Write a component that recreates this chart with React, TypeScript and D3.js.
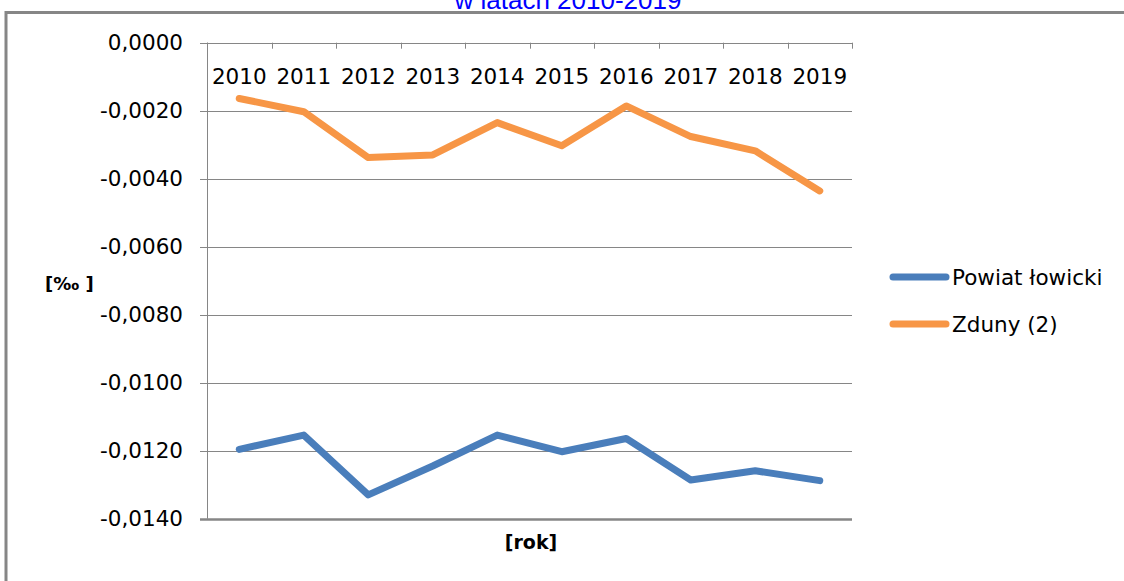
import * as d3 from 'd3';
import { Component, createRef } from 'react';

const years = ['2010', '2011', '2012', '2013', '2014', '2015', '2016', '2017', '2018', '2019'];
const powiatValues = [-0.01196, -0.01154, -0.0133, -0.01245, -0.01154, -0.01203, -0.01164, -0.01286, -0.01259, -0.01288];
const zdunyValues = [-0.00164, -0.00203, -0.00338, -0.0033, -0.00235, -0.00303, -0.00186, -0.00276, -0.00318, -0.00436];
const yTickValues = [0, -0.002, -0.004, -0.006, -0.008, -0.01, -0.012, -0.014];
const seriesNames = ['Powiat łowicki', 'Zduny (2)'];
const seriesColors = ['#4A7EBB', '#F79646'];

const FONT = '"DejaVu Sans", sans-serif';

class App extends Component {
    svgRef = createRef<SVGSVGElement>();

    componentDidMount() {
        this.drawGraph();
    }

    componentDidUpdate() {
        this.drawGraph();
    }

    drawGraph() {
        const width = 1124, height = 581;
        const left = 207, right = 852, top = 42.7, bottom = 518.7;

        const svg = d3.select(this.svgRef.current);
        svg.selectAll('*').remove();

        const x = d3.scaleBand().domain(years).range([left, right]);
        const y = d3.scaleLinear().domain([-0.014, 0]).range([bottom, top]);

        const locale = d3.formatLocale({
            decimal: ',', thousands: ' ', grouping: [3], currency: ['', ''], minus: '-'
        });
        const fmt = locale.format('.4f');

        svg.append('rect').attr('width', width).attr('height', height).attr('fill', '#fff');

        // outer frame of the chart
        svg.append('rect')
            .attr('x', 6).attr('y', 12.5)
            .attr('width', 1300).attr('height', 800)
            .attr('fill', 'none')
            .attr('stroke', '#868686')
            .attr('stroke-width', 3);

        // title (cut off at the top)
        svg.append('text')
            .attr('x', 568).attr('y', 9)
            .attr('text-anchor', 'middle')
            .style('font-family', '"Liberation Sans", Arial, sans-serif')
            .style('font-size', '26px')
            .attr('fill', '#0000FF')
            .text('w latach 2010-2019');

        // gridlines + y ticks
        const grid = svg.append('g');
        yTickValues.forEach(v => {
            grid.append('line')
                .attr('x1', left - 7).attr('x2', right)
                .attr('y1', Math.round(y(v)) + 0.5).attr('y2', Math.round(y(v)) + 0.5)
                .attr('stroke', '#868686')
                .attr('stroke-width', v === -0.014 ? 2.5 : 1);
            grid.append('text')
                .attr('x', 183).attr('y', y(v))
                .attr('dy', '0.36em')
                .attr('text-anchor', 'end')
                .style('font-family', FONT)
                .style('font-size', '21.5px')
                .attr('fill', '#000')
                .text(fmt(v));
        });

        // y axis line
        svg.append('line')
            .attr('x1', left + 0.5).attr('x2', left + 0.5)
            .attr('y1', top).attr('y2', bottom)
            .attr('stroke', '#868686');

        // x ticks at category boundaries (axis sits at 0 on top)
        const bounds = years.map(d => x(d) as number).concat([right]);
        bounds.forEach(b => {
            svg.append('line')
                .attr('x1', Math.round(b) + 0.5).attr('x2', Math.round(b) + 0.5)
                .attr('y1', top).attr('y2', top + 6)
                .attr('stroke', '#868686');
        });

        svg.append('g')
            .selectAll('text')
            .data(years)
            .enter()
            .append('text')
            .attr('x', d => (x(d) as number) + x.bandwidth() / 2)
            .attr('y', 84)
            .attr('text-anchor', 'middle')
            .style('font-family', FONT)
            .style('font-size', '21.5px')
            .attr('fill', '#000')
            .text(d => d);

        // lines
        const line = d3.line<number>()
            .x((d, i) => (x(years[i]) as number) + x.bandwidth() / 2)
            .y(d => y(d));

        [powiatValues, zdunyValues].forEach((vals, i) => {
            svg.append('path')
                .datum(vals)
                .attr('d', line)
                .attr('fill', 'none')
                .attr('stroke', seriesColors[i])
                .attr('stroke-width', 7)
                .attr('stroke-linejoin', 'round')
                .attr('stroke-linecap', 'round');
        });

        // axis titles
        svg.append('text')
            .attr('x', 45).attr('y', 290)
            .style('font-family', FONT)
            .style('font-size', '18px')
            .style('font-weight', 'bold')
            .attr('fill', '#000')
            .text('[‰ ]');

        svg.append('text')
            .attr('x', 531).attr('y', 549)
            .attr('text-anchor', 'middle')
            .style('font-family', FONT)
            .style('font-size', '19px')
            .style('font-weight', 'bold')
            .attr('fill', '#000')
            .text('[rok]');

        // legend
        const legendY = [277, 324];
        seriesNames.forEach((name, i) => {
            svg.append('line')
                .attr('x1', 893).attr('x2', 946)
                .attr('y1', legendY[i]).attr('y2', legendY[i])
                .attr('stroke', seriesColors[i])
                .attr('stroke-width', 7)
                .attr('stroke-linecap', 'round');
            svg.append('text')
                .attr('x', 952).attr('y', legendY[i])
                .attr('dy', '0.36em')
                .style('font-family', FONT)
                .style('font-size', '21.5px')
                .attr('fill', '#000')
                .text(name);
        });
    }

    render() {
        return (
            <svg
                ref={this.svgRef}
                width={1124}
                height={581}
                style={{ position: 'absolute', left: 0, top: 0 }}
            />
        );
    }
}

export default App;
